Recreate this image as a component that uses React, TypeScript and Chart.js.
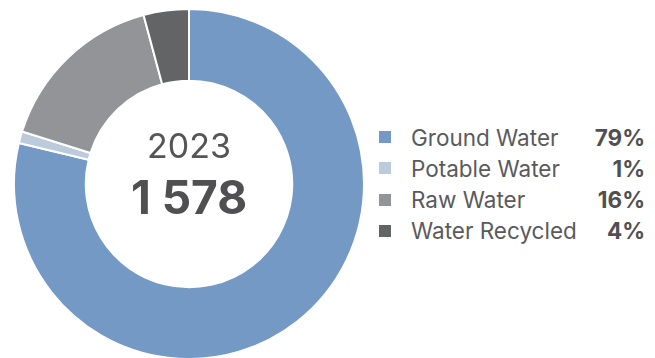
import React, { useEffect, useRef } from "react";
import { Chart, registerables } from "chart.js";

Chart.register(...registerables);

const categories = ["Ground Water", "Potable Water", "Raw Water", "Water Recycled"];
const values = [1243, 17, 252, 66];
const colors = ["#7399C4", "#BCCBDB", "#939497", "#636466"];
const year = "2023";
const totalLabel = "1 578";

const FONT = "Inter, 'Noto Sans', sans-serif";

export default function App() {
  const ref = useRef<HTMLCanvasElement | null>(null);
  const total = values.reduce((a, b) => a + b, 0);
  const pct = values.map((v) => Math.round((v / total) * 100) + "%");

  useEffect(() => {
    if (!ref.current) return;
    const chart = new Chart(ref.current, {
      type: "doughnut",
      data: {
        labels: categories,
        datasets: [
          {
            data: values,
            backgroundColor: colors,
            borderColor: "#ffffff",
            borderWidth: 2,
          },
        ],
      },
      options: {
        animation: false,
        responsive: false,
        maintainAspectRatio: false,
        cutout: "59%",
        layout: { padding: 0 },
        plugins: {
          legend: { display: false },
          tooltip: { enabled: false },
        },
      },
    });
    return () => chart.destroy();
  }, []);

  return (
    <div
      style={{
        position: "fixed",
        left: 0,
        top: 0,
        width: 655,
        height: 358,
        overflow: "hidden",
        background: "#ffffff",
        fontFamily: FONT,
      }}
    >
      <canvas
        ref={ref}
        width={352}
        height={352}
        style={{ position: "absolute", left: 13, top: 8, width: 352, height: 352 }}
      />
      <div
        style={{
          position: "absolute",
          left: 89,
          width: 200,
          top: 126,
          textAlign: "center",
          color: "#555557",
          fontSize: 34,
          lineHeight: "40px",
        }}
      >
        {year}
      </div>
      <div
        style={{
          position: "absolute",
          left: 89,
          width: 200,
          top: 170,
          textAlign: "center",
          color: "#505052",
          fontSize: 46,
          fontWeight: 700,
          lineHeight: "54px",
        }}
      >
        {totalLabel}
      </div>
      {categories.map((c, i) => (
        <div
          key={c}
          style={{
            position: "absolute",
            left: 379,
            top: 122 + i * 31.3,
            width: 266,
            height: 30,
            display: "flex",
            alignItems: "center",
            fontSize: 22.5,
          }}
        >
          <span
            style={{
              display: "inline-block",
              width: 12,
              height: 12,
              background: colors[i],
              marginRight: 20,
            }}
          />
          <span style={{ color: "#5a5a5c", flex: 1 }}>{c}</span>
          <span style={{ color: "#505052", fontWeight: 700 }}>{pct[i]}</span>
        </div>
      ))}
    </div>
  );
}
